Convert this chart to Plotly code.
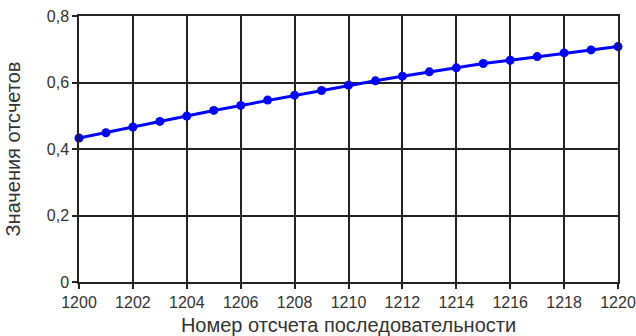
import plotly.graph_objects as go

x_vals = list(range(1200, 1221))
y_vals = [0.433, 0.449, 0.466, 0.483, 0.499, 0.516, 0.531, 0.547, 0.562, 0.576,
          0.592, 0.605, 0.619, 0.632, 0.644, 0.657, 0.667, 0.678, 0.689, 0.698, 0.708]
x_ticks = list(range(1200, 1221, 2))
y_ticks = [0, 0.2, 0.4, 0.6, 0.8]
y_tick_text = ["0", "0,2", "0,4", "0,6", "0,8"]

fig = go.Figure()
fig.add_trace(go.Scatter(
    x=x_vals, y=y_vals, mode="lines+markers",
    line=dict(color="#0000ff", width=3),
    marker=dict(color="#0000ff", size=9),
    showlegend=False, cliponaxis=False,
))

font_family = "Liberation Sans, Arial, sans-serif"
fig.update_layout(
    width=636, height=336,
    margin=dict(l=79, r=18, t=16, b=54),
    paper_bgcolor="white", plot_bgcolor="white",
    separators=",.",
    font=dict(family=font_family, color="#333333", size=16),
    xaxis=dict(
        range=[1200, 1220], tickvals=x_ticks, automargin=False,
        showgrid=True, gridcolor="#222222", gridwidth=1.5,
        showline=True, linecolor="#222222", linewidth=1.5, mirror=True,
        ticks="outside", ticklen=5, tickcolor="#222222", tickwidth=1.5,
        zeroline=False,
        title=dict(text="Номер отсчета последовательности", font=dict(size=20, color="#333333"), standoff=12),
        tickfont=dict(size=16),
    ),
    yaxis=dict(
        range=[0, 0.8], tickvals=y_ticks, ticktext=y_tick_text, automargin=False,
        showgrid=True, gridcolor="#222222", gridwidth=1.5,
        showline=True, linecolor="#222222", linewidth=1.5, mirror=True,
        ticks="outside", ticklen=5, tickcolor="#222222", tickwidth=1.5,
        zeroline=False,
        title=dict(text="Значения отсчетов", font=dict(size=20, color="#333333"), standoff=21),
        tickfont=dict(size=16),
    ),
)
fig.write_html("out.html")
